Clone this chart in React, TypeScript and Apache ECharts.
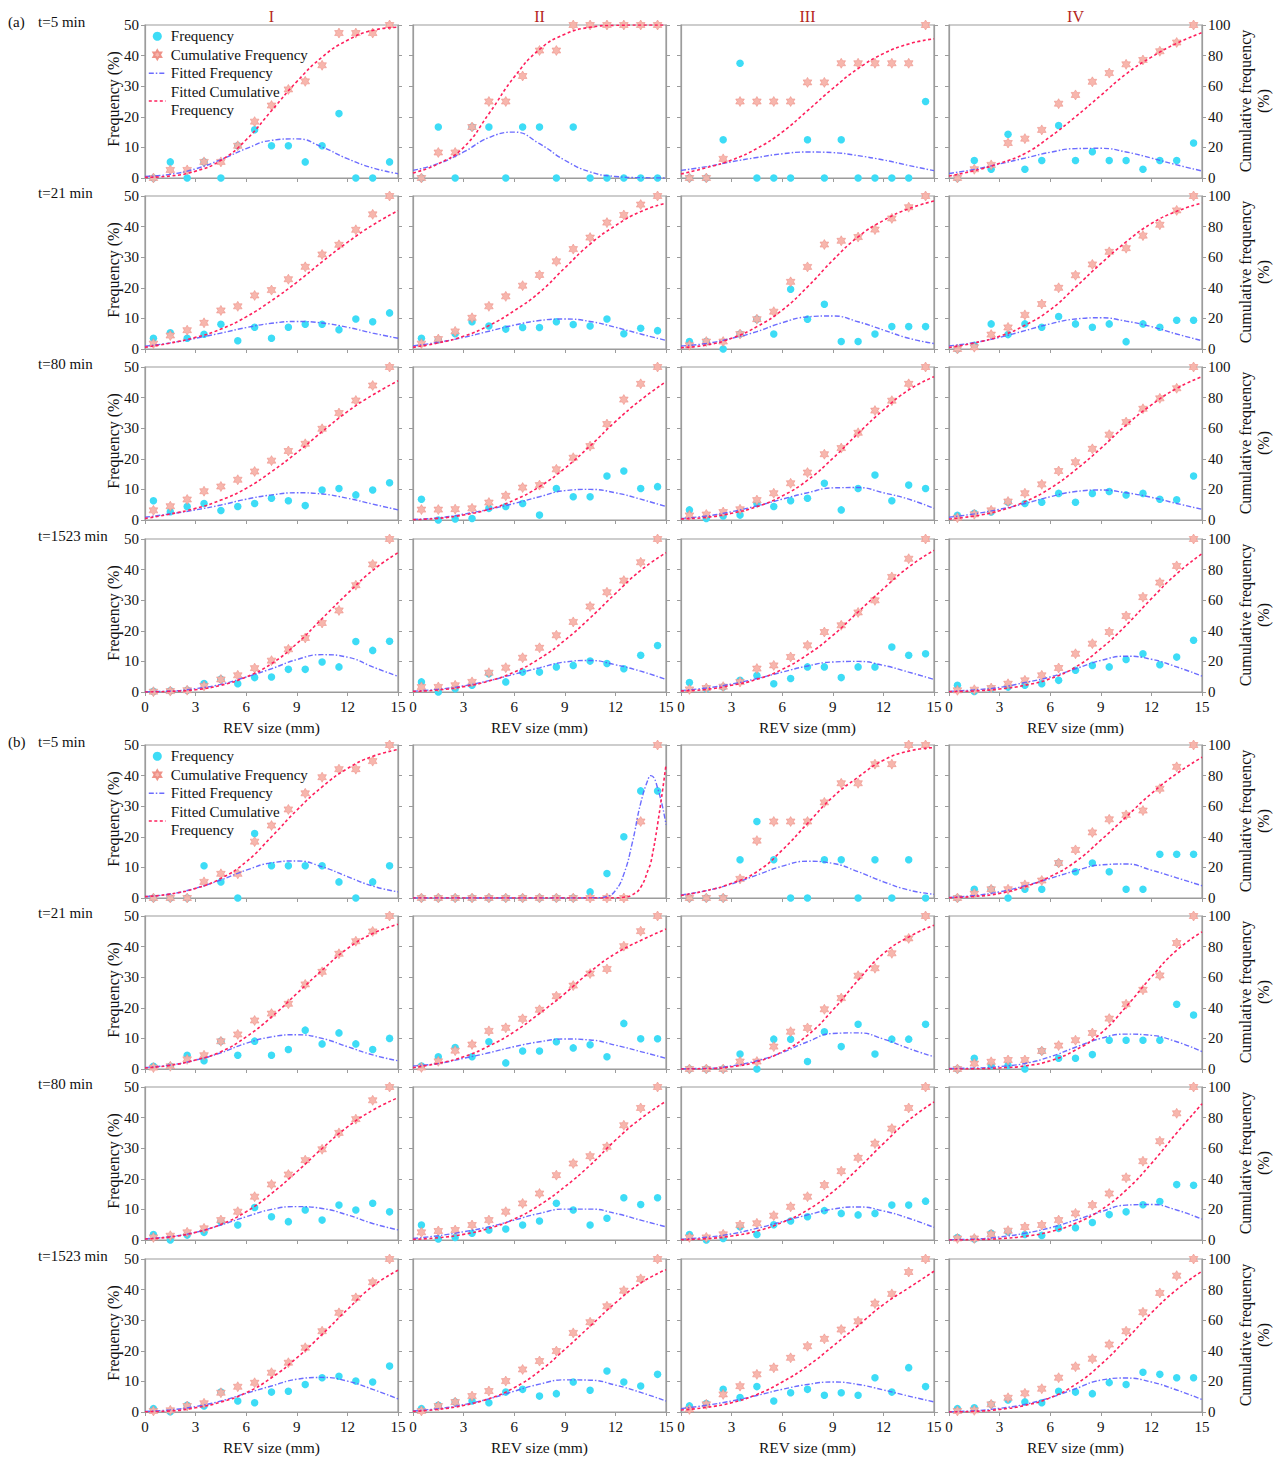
import React, { useEffect, useRef } from 'react';
import * as echarts from 'echarts';

// ---------- shared axes / labels ----------
const xMid = [0.5, 1.5, 2.5, 3.5, 4.5, 5.5, 6.5, 7.5, 8.5, 9.5, 10.5, 11.5, 12.5, 13.5, 14.5];
const fitX = [0, 1.5, 3, 4.5, 6, 7.5, 9, 10.5, 12, 13.5, 15];
const fitXNarrow = [0, 3, 6, 9, 11, 11.5, 12, 12.5, 13, 13.5, 14, 14.1, 14.5, 15];
const groupLabels = ['(a)', '(b)'];
const timeLabels = ['t=5 min', 't=21 min', 't=80 min', 't=1523 min'];
const columnLabels = ['I', 'II', 'III', 'IV'];
const seriesNames = ['Frequency', 'Cumulative Frequency', 'Fitted Frequency', 'Fitted Cumulative Frequency'];

// ---------- (a) t=5 min ----------
const freqA5 = [
  [0, 5.26, 0, 5.26, 0, 10.53, 15.79, 10.53, 10.53, 5.26, 10.53, 21.05, 0, 0, 5.26],
  [0, 16.67, 0, 16.67, 16.67, 0, 16.67, 16.67, 0, 16.67, 0, 0, 0, 0, 0],
  [0, 0, 12.5, 37.5, 0, 0, 0, 12.5, 0, 12.5, 0, 0, 0, 0, 25],
  [0, 5.71, 2.86, 14.29, 2.86, 5.71, 17.14, 5.71, 8.57, 5.71, 5.71, 2.86, 5.71, 5.71, 11.43],
];
const cumA5 = [
  [0, 5.26, 5.26, 10.53, 10.53, 21.05, 36.84, 47.37, 57.89, 63.16, 73.68, 94.74, 94.74, 94.74, 100],
  [0, 16.67, 16.67, 33.33, 50, 50, 66.67, 83.33, 83.33, 100, 100, 100, 100, 100, 100],
  [0, 0, 12.5, 50, 50, 50, 50, 62.5, 62.5, 75, 75, 75, 75, 75, 100],
  [0, 5.71, 8.57, 22.86, 25.71, 31.43, 48.57, 54.29, 62.86, 68.57, 74.29, 77.14, 82.86, 88.57, 100],
];
const fitFreqA5 = [
  [0.5, 1.2, 3, 6, 9.6, 12.3, 12.8, 10.1, 6.3, 3.3, 1.4],
  [2.5, 4.7, 8.5, 13.2, 15, 11.2, 5.8, 2, 0.5, 0.1, 0],
  [2.5, 3.7, 5.3, 6.7, 7.9, 8.5, 8.3, 7.3, 5.9, 4.1, 2.4],
  [1.5, 2.8, 4.6, 6.5, 8.4, 9.6, 9.7, 8.5, 6.5, 4.3, 2.3],
];
const fitCumA5 = [
  [0.4, 1.3, 4.5, 11.5, 25, 44, 63, 79, 90, 96.5, 98.5],
  [3.3, 9.3, 20, 42, 66, 84, 94, 98.5, 99.8, 100, 100],
  [2.6, 6.7, 11.7, 19.3, 30, 44, 58.5, 71.5, 81.3, 87.6, 91],
  [1.3, 4.8, 9.6, 16, 27, 40, 54, 68, 79, 88, 95],
];

// ---------- (a) t=21 min ----------
const freqA21 = [
  [3.5, 5.3, 3.5, 4.8, 8.1, 2.7, 7.1, 3.5, 7.1, 8.1, 8.1, 6.3, 9.8, 8.9, 11.8],
  [3.5, 3, 5, 8.9, 7.5, 6.5, 7, 7, 8.9, 8, 7.5, 9.8, 5, 6.8, 6],
  [2.44, 2.44, 0, 4.88, 9.76, 4.88, 19.51, 9.76, 14.63, 2.44, 2.44, 4.88, 7.32, 7.32, 7.32],
  [0, 1.2, 8.2, 4.7, 8.2, 7.1, 10.6, 8.2, 7.1, 8.2, 2.4, 8.2, 7.1, 9.4, 9.4],
];
const cumA21 = [
  [3.5, 8.8, 12.3, 17.1, 25.2, 27.9, 35, 38.5, 45.6, 53.7, 61.8, 68.1, 77.9, 88, 100],
  [3.5, 6.5, 11.5, 20.4, 27.9, 34.4, 41.4, 48.4, 57.3, 65.3, 72.8, 82.6, 87.6, 94.4, 100],
  [2.44, 4.88, 4.88, 9.76, 19.51, 24.39, 43.9, 53.66, 68.29, 70.73, 73.17, 78.05, 85.37, 92.68, 100],
  [0, 1.2, 9.4, 14.1, 22.3, 29.4, 40, 48.2, 55.3, 63.5, 65.9, 74.1, 81.2, 90.6, 100],
];
const fitFreqA21 = [
  [0.9, 2, 3.5, 5.2, 7, 8.4, 9, 8.5, 7.1, 5.2, 3.5],
  [1, 2.2, 3.8, 5.8, 7.8, 9.3, 9.8, 9, 7.1, 4.9, 2.8],
  [1, 1.8, 3.5, 5.7, 8.6, 10.5, 10.8, 8.9, 6.2, 3.5, 1.8],
  [1, 2.1, 3.8, 6, 8.2, 9.8, 10.2, 9.1, 7.3, 4.9, 2.7],
];
const fitCumA21 = [
  [1.1, 3.9, 7.6, 13, 21, 31.6, 43.6, 57, 69.7, 81, 90.4],
  [1.1, 4, 8.3, 15.3, 25, 37, 53, 68.6, 80.6, 89.8, 95.4],
  [0.9, 2.6, 7, 14.6, 25.4, 40.6, 58, 73.3, 84, 91.7, 96.7],
  [1, 4, 8.3, 15.5, 25.6, 40.4, 55.8, 70, 82, 90, 95.4],
];

// ---------- (a) t=80 min ----------
const freqA80 = [
  [6.3, 2.7, 4.4, 5.4, 3.1, 4.4, 5.4, 7.1, 6.3, 4.7, 9.8, 10.3, 8.2, 9.8, 12.2],
  [6.8, 0, 0.3, 0.5, 3.8, 4.4, 5.4, 1.6, 10.3, 7.6, 7.6, 14.4, 16, 10.3, 10.9],
  [3.3, 0.5, 1.3, 1.6, 5.4, 4.4, 6.3, 7.1, 12, 3.3, 10.3, 14.7, 6.3, 11.4, 10.3],
  [1.5, 2.2, 2.6, 5.8, 5.4, 5.8, 8.7, 5.8, 8.7, 9.3, 8.2, 8.7, 6.8, 6.6, 14.4],
];
const cumA80 = [
  [6.3, 9, 13.4, 18.8, 21.9, 26.3, 31.7, 38.8, 45.1, 49.8, 59.6, 69.9, 78.1, 87.9, 100],
  [6.8, 6.8, 7.1, 7.6, 11.4, 15.8, 21.2, 22.8, 33.1, 40.7, 48.3, 62.7, 78.7, 89, 100],
  [3, 3.6, 5.2, 7, 13, 17.5, 24, 31, 43, 47, 57, 71.5, 78, 89, 100],
  [1.5, 3.7, 6.3, 12.1, 17.5, 23.3, 32, 37.8, 46.5, 55.8, 64, 72.7, 79.5, 86.1, 100],
];
const fitFreqA80 = [
  [0.9, 2, 3.3, 4.9, 6.8, 8.2, 8.9, 8.5, 7.1, 5.2, 3.3],
  [0.2, 0.7, 1.9, 3.5, 5.4, 7.6, 9.6, 10, 8.9, 6.8, 4.4],
  [0.5, 1.3, 2.7, 4.6, 6.8, 8.9, 10.5, 10.6, 8.9, 6.8, 3.8],
  [0.9, 2, 3.5, 5.4, 7.6, 9.3, 9.8, 8.9, 7.4, 5.4, 3.5],
];
const fitCumA80 = [
  [1, 3.9, 7.6, 13, 20.7, 31.6, 44, 57.7, 70.8, 81.7, 91],
  [0.2, 1.1, 3.3, 7, 13, 21.8, 33.8, 48.4, 64.3, 78.4, 90.4],
  [0.7, 1.7, 4.4, 8.7, 15.7, 26, 40.3, 56.6, 71.9, 85, 93.7],
  [0.7, 2.6, 6.1, 12, 20.7, 32.7, 46.8, 62, 75.2, 86, 93.7],
];

// ---------- (a) t=1523 min ----------
const freqA1523 = [
  [0.2, 0.4, 0.6, 2.8, 4.2, 2.7, 4.7, 4.9, 7.4, 7.4, 9.8, 8.2, 16.5, 13.6, 16.6],
  [3.3, 0, 1.1, 2.2, 6, 3.3, 6.5, 6.5, 8.2, 8.7, 10.1, 9.3, 7.6, 12, 15.2],
  [3.1, 1.1, 1.6, 3.8, 5.4, 2.7, 4.4, 8.2, 8.2, 4.7, 8.2, 8.2, 14.7, 12, 12.5],
  [2.2, 0.2, 1.1, 1.6, 2.2, 2.7, 3.8, 7.1, 8.7, 8.2, 10.6, 12.5, 8.9, 11.4, 16.9],
];
const cumA1523 = [
  [0.2, 0.6, 1.2, 4, 8.2, 10.9, 15.6, 20.5, 27.9, 35.3, 45.1, 53.3, 69.8, 83.4, 100],
  [3.3, 3.3, 4.4, 6.6, 12.6, 15.9, 22.4, 28.9, 37.1, 45.8, 55.9, 65.2, 72.8, 84.8, 100],
  [1.7, 2.6, 3.5, 6.5, 15.3, 17.4, 22.9, 30.5, 39.2, 43.6, 52, 59.9, 75.2, 87.1, 100],
  [1.1, 1.5, 2.6, 5.4, 7.6, 10.9, 15.7, 25, 31.6, 39.2, 49.7, 62, 71.5, 82.4, 100],
];
const fitFreqA1523 = [
  [0.1, 0.3, 1.1, 2.5, 4.9, 7.6, 10.6, 12.2, 11.4, 8.2, 5.1],
  [0.3, 0.9, 2, 3.7, 5.8, 7.9, 9.8, 10.3, 8.9, 6.8, 4.1],
  [0.5, 1.3, 2.6, 4.4, 6.5, 8.5, 9.8, 10, 8.7, 6.5, 4.1],
  [0.2, 0.7, 1.5, 3.1, 4.9, 7.6, 10.3, 11.7, 10.7, 8.2, 5.2],
];
const fitCumA1523 = [
  [0, 0.4, 1.5, 4.4, 9.8, 18.5, 31.6, 48, 64.3, 79.5, 91],
  [0.4, 1.3, 3.5, 7.2, 13, 21.8, 33.8, 48.4, 64.3, 79.5, 91],
  [0.7, 1.7, 4.4, 8.3, 14.8, 24.4, 37, 52.3, 67.5, 81.7, 92.6],
  [0.2, 0.7, 2, 4.4, 8.7, 16.3, 28.3, 43.6, 61, 77.3, 90.4],
];

// ---------- (b) t=5 min ----------
const freqB5 = [
  [0, 0, 0, 10.53, 5.26, 0, 21.05, 10.53, 10.53, 10.53, 10.53, 5.26, 0, 5.26, 10.53],
  [0, 0, 0, 0, 0, 0, 0, 0, 0, 0, 2, 8, 20, 35, 35],
  [0, 0, 0, 12.5, 25, 12.5, 0, 0, 12.5, 12.5, 0, 12.5, 0, 12.5, 0],
  [0, 2.86, 2.86, 0, 2.86, 2.86, 11.43, 8.57, 11.43, 8.57, 2.86, 2.86, 14.29, 14.29, 14.29],
];
const cumB5 = [
  [0, 0, 0, 10.53, 15.79, 15.79, 36.84, 47.37, 57.89, 68.42, 78.95, 84.21, 84.21, 89.47, 100],
  [0, 0, 0, 0, 0, 0, 0, 0, 0, 0, 0, 0, 0, 50, 100],
  [0, 0, 0, 12.5, 37.5, 50, 50, 50, 62.5, 75, 75, 87.5, 87.5, 100, 100],
  [0, 2.86, 5.71, 5.71, 8.57, 11.43, 22.86, 31.43, 42.86, 51.43, 54.29, 57.14, 71.43, 85.71, 100],
];
const fitFreqB5 = [
  [0.5, 1.3, 3.2, 5.9, 9.1, 11.5, 12.1, 10.2, 7, 3.9, 2],
  [0, 0, 0, 0, 0.1, 0.5, 2.4, 7.8, 18, 31, 39.7, 40, 36, 24],
  [1, 2.4, 4.6, 7.5, 10.4, 12, 11.3, 8.6, 5.3, 2.6, 1.2],
  [0.2, 0.8, 2, 4, 6.4, 8.9, 10.8, 11.1, 9.1, 6.6, 4],
];
const fitCumB5 = [
  [0.9, 2.6, 6.3, 12.8, 23.7, 40, 57.4, 72.6, 84.6, 92.6, 97],
  [0, 0, 0, 0, 0, 0, 0.1, 0.5, 2, 7, 20, 23, 48, 87],
  [1.7, 4.8, 9.6, 17.2, 31.3, 48.7, 66, 79, 90, 96, 98.3],
  [0.2, 1, 3, 7.4, 14, 23.7, 37.8, 53, 68.3, 81.3, 92],
];

// ---------- (b) t=21 min ----------
const freqB21 = [
  [0.9, 0.9, 4.5, 2.7, 9.1, 4.5, 9.1, 4.5, 6.4, 12.7, 8.2, 11.8, 8.2, 6.4, 10],
  [1, 4, 7, 4, 8.9, 2, 5.9, 5.9, 8.9, 6.9, 7.9, 4, 14.9, 9.9, 9.9],
  [0, 0, 0, 4.88, 0, 9.76, 9.76, 2.44, 12.2, 7.32, 14.63, 4.88, 9.76, 9.76, 14.63],
  [0, 3.53, 1.18, 1.18, 0, 5.88, 3.53, 3.53, 4.71, 9.41, 9.41, 9.41, 9.41, 21.18, 17.65],
];
const cumB21 = [
  [0.9, 1.8, 6.3, 9, 18.1, 22.6, 31.7, 36.2, 42.6, 55.3, 63.5, 75.3, 83.5, 89.9, 100],
  [1, 5, 12, 16, 24.9, 26.9, 32.8, 38.7, 47.6, 54.5, 62.4, 65.4, 80.3, 90.1, 100],
  [0, 0, 0, 4.88, 4.88, 14.63, 24.39, 26.83, 39.02, 46.34, 60.98, 65.85, 75.61, 85.37, 100],
  [0, 3.53, 4.71, 5.88, 5.88, 11.76, 15.29, 18.82, 23.53, 32.94, 42.35, 51.76, 61.18, 82.35, 100],
];
const fitFreqB21 = [
  [0.5, 1.3, 2.9, 5.3, 8.4, 10.5, 11.2, 10, 7.3, 4.6, 2.7],
  [1, 1.8, 3.5, 5.3, 7.3, 8.9, 9.8, 9.5, 7.8, 5.7, 3.5],
  [0.1, 0.2, 1, 2.7, 5.4, 8.9, 11.6, 11.8, 9.8, 6.7, 4],
  [0.2, 0.3, 0.8, 1.8, 4, 7.1, 10, 11.4, 11, 8.9, 5.7],
];
const fitCumB21 = [
  [0.7, 2.4, 5.9, 11.3, 21, 34, 49.3, 64.6, 78.7, 88.5, 94.6],
  [0.9, 3.7, 8, 15, 24.3, 36.3, 49.3, 63.5, 75.4, 84, 91.5],
  [0, 0.2, 1.5, 4.8, 11.3, 22, 38.5, 58, 75.4, 86.3, 94],
  [0, 0.1, 0.7, 2, 5.4, 12.4, 23.3, 40.7, 60.2, 77.6, 89.6],
];

// ---------- (b) t=80 min ----------
const freqB80 = [
  [1.8, 0, 1.6, 2.5, 6, 4.9, 10.6, 7.6, 6, 9.8, 6.5, 11.4, 9.8, 12, 9.2],
  [4.9, 0.3, 0.8, 2.2, 3.3, 3.6, 4.9, 6.2, 12, 9.8, 4.9, 7.1, 13.8, 11.6, 13.8],
  [1.8, 0, 0.5, 4.3, 1.8, 5, 6.2, 7.6, 9.6, 8.7, 8.2, 8.7, 11.4, 11.4, 12.7],
  [0.8, 0.3, 2.2, 2.7, 1.8, 1.5, 3.8, 4, 5.7, 8.3, 9.2, 11.5, 12.6, 18.1, 17.9],
];
const cumB80 = [
  [1.7, 2.8, 5, 7.6, 13, 18.5, 28.3, 36.3, 42.8, 52.2, 59.3, 70, 79, 91.3, 100],
  [5, 5.9, 6.5, 9.8, 13, 18.5, 23.9, 30.4, 42.4, 50, 54.8, 60.9, 75, 86.3, 100],
  [1.7, 1.7, 3.7, 9.8, 10.9, 15.9, 21.7, 28.3, 35.9, 45, 53.7, 63, 72.8, 86.3, 100],
  [1, 1, 3.7, 6.1, 8.5, 9.8, 13, 17.4, 22.8, 30.4, 40.7, 51.5, 64.6, 82.8, 100],
];
const fitFreqB80 = [
  [0.4, 1.1, 2.5, 4.9, 7.6, 10, 10.9, 10.3, 8.2, 5.4, 3.3],
  [0.5, 1.4, 2.7, 4.3, 6.5, 8.7, 10.1, 10.1, 8.7, 6.5, 4.3],
  [0.3, 0.9, 2, 3.8, 6, 8.2, 10.1, 10.8, 9.5, 7.1, 4.1],
  [0.1, 0.3, 1, 2.2, 4, 6.5, 9.2, 11.4, 11.6, 9.8, 6.8],
];
const fitCumB80 = [
  [0.7, 2, 5, 10.2, 18.5, 30.4, 44.6, 59.8, 73.9, 84.8, 93],
  [0.4, 1.5, 3.7, 7.6, 13.7, 22.8, 34.8, 48.9, 65.2, 79.3, 90.7],
  [0.2, 0.9, 2.6, 5.9, 11.5, 19.6, 31.5, 46.7, 63, 78.3, 90.2],
  [0, 0.2, 0.9, 2.4, 5.4, 10.9, 19.6, 32.6, 50, 70, 89],
];

// ---------- (b) t=1523 min ----------
const freqB1523 = [
  [1.1, 0.1, 2.2, 2, 6.5, 3.6, 3, 6.5, 6.8, 9, 11.2, 11.7, 10.1, 9.8, 15],
  [1.1, 2.2, 3.3, 3.6, 3, 6.5, 7.4, 5.2, 6, 9.8, 7.1, 13.4, 9.8, 8.5, 12.3],
  [2, 2.8, 7.4, 4.7, 8.3, 3.6, 6.3, 7.4, 5.5, 6.3, 5.5, 11.2, 6.5, 14.5, 8.3],
  [1.1, 1.4, 2.5, 3.9, 3.3, 3, 6.8, 6.5, 6, 9.6, 9, 13, 12.3, 11.2, 11.2],
];
const cumB1523 = [
  [0.7, 1.1, 3.9, 5.7, 12.6, 16.5, 19.1, 25.7, 32.2, 42, 52.8, 64.8, 74.6, 84.8, 100],
  [0.7, 3.9, 6.5, 10.4, 13.7, 20.2, 27.8, 33.3, 39.8, 51.7, 58.7, 69.1, 79.3, 87, 100],
  [1.7, 5, 11.5, 16.9, 24.6, 28.9, 35.4, 43, 47.8, 53.9, 59.3, 70.9, 77.2, 91.5, 100],
  [0.7, 1.1, 5, 9.3, 12.2, 15.2, 22.4, 29.6, 34.8, 44.1, 52.8, 65.2, 77.8, 89.1, 100],
];
const fitFreqB1523 = [
  [0.2, 0.7, 1.8, 3.6, 6.1, 8.5, 10.7, 11.3, 10.1, 7.4, 4.3],
  [0.4, 1.1, 2.4, 4.3, 6.8, 9.1, 10.5, 10.4, 8.8, 6.4, 3.6],
  [1.1, 2.2, 3.6, 5.4, 7.4, 9, 9.8, 9, 7.2, 5.2, 3.3],
  [0.1, 0.4, 1.2, 2.5, 4.7, 7.6, 10.4, 11.1, 9.8, 7.2, 4.1],
];
const fitCumB1523 = [
  [0.2, 0.7, 2.8, 6.5, 12.6, 22.4, 35.4, 50.7, 67, 82.2, 92.6],
  [0.4, 1.7, 4.3, 8.7, 15.9, 26.7, 40.9, 56.1, 71.3, 84.3, 93],
  [1.3, 3, 6.1, 11.5, 19.6, 30, 43, 56.5, 70.2, 81.1, 92],
  [0, 0.4, 1.7, 4.3, 9.3, 18, 31, 47.4, 64.8, 80, 92],
];

const rows = [
  { freq: freqA5, cum: cumA5, fitF: fitFreqA5, fitC: fitCumA5 },
  { freq: freqA21, cum: cumA21, fitF: fitFreqA21, fitC: fitCumA21 },
  { freq: freqA80, cum: cumA80, fitF: fitFreqA80, fitC: fitCumA80 },
  { freq: freqA1523, cum: cumA1523, fitF: fitFreqA1523, fitC: fitCumA1523 },
  { freq: freqB5, cum: cumB5, fitF: fitFreqB5, fitC: fitCumB5 },
  { freq: freqB21, cum: cumB21, fitF: fitFreqB21, fitC: fitCumB21 },
  { freq: freqB80, cum: cumB80, fitF: fitFreqB80, fitC: fitCumB80 },
  { freq: freqB1523, cum: cumB1523, fitF: fitFreqB1523, fitC: fitCumB1523 },
];

// ---------- layout & style ----------
const FONT = "'Liberation Serif', 'Times New Roman', serif";
const colLeft = [145, 413, 681, 949];
const rowTop = [25, 196, 367, 539, 745, 916, 1087, 1259];
const PW = 253;
const PH = 153;
const AXIS_GREY = '#9c9c9c';
const CYAN = '#3ddcf6';
const PINK = '#f7b2a9';
const PINK_EDGE = '#ee8e84';
const BLUE = '#5c5cff';
const RED = '#ff1f5c';
const BLUE_DASH = [5, 2, 1.5, 2];
const RED_DASH = [3, 2.5];

function hexagram(): string {
  const pts: string[] = [];
  for (let i = 0; i < 12; i++) {
    const a = -Math.PI / 2 + (i * Math.PI) / 6;
    const rr = i % 2 === 0 ? 10 : 5.77;
    pts.push(`${(10 + rr * Math.cos(a)).toFixed(2)} ${(10 + rr * Math.sin(a)).toFixed(2)}`);
  }
  return 'path://M' + pts.join(' L') + ' Z';
}
const STAR = hexagram();

function buildOption() {
  const grid: any[] = [];
  const xAxis: any[] = [];
  const yAxis: any[] = [];
  const series: any[] = [];
  const graphic: any[] = [];

  for (let r = 0; r < 8; r++) {
    const d = rows[r];
    for (let c = 0; c < 4; c++) {
      const p = r * 4 + c;
      const fx = r === 4 && c === 1 ? fitXNarrow : fitX;
      grid.push({
        left: colLeft[c], top: rowTop[r], width: PW, height: PH,
        show: true, borderColor: AXIS_GREY, borderWidth: 1.2, backgroundColor: 'transparent',
      });
      xAxis.push({
        type: 'value', gridIndex: p, min: 0, max: 15, interval: 3,
        axisLine: { show: true, onZero: false, lineStyle: { color: AXIS_GREY, width: 1.2 } },
        axisTick: { show: true, inside: false, length: 4, lineStyle: { color: AXIS_GREY } },
        axisLabel: { show: r % 4 === 3, fontFamily: FONT, fontSize: 15, color: '#111', margin: 7 },
        splitLine: { show: false },
      });
      yAxis.push({
        type: 'value', gridIndex: p, position: 'left', min: 0, max: 50, interval: 10,
        axisLine: { show: true, onZero: false, lineStyle: { color: AXIS_GREY, width: 1.2 } },
        axisTick: { show: true, inside: false, length: 4, lineStyle: { color: AXIS_GREY } },
        axisLabel: { show: c === 0, fontFamily: FONT, fontSize: 15, color: '#111', margin: 6 },
        splitLine: { show: false },
      });
      yAxis.push({
        type: 'value', gridIndex: p, position: 'right', min: 0, max: 100, interval: 20,
        axisLine: { show: true, onZero: false, lineStyle: { color: AXIS_GREY, width: 1.2 } },
        axisTick: { show: true, inside: false, length: 4, lineStyle: { color: AXIS_GREY } },
        axisLabel: { show: c === 3, fontFamily: FONT, fontSize: 15, color: '#111', margin: 6 },
        splitLine: { show: false },
      });
      series.push({
        name: seriesNames[0], type: 'scatter', xAxisIndex: p, yAxisIndex: 2 * p,
        symbol: 'circle', symbolSize: 7.5,
        itemStyle: { color: CYAN, opacity: 1 },
        data: xMid.map((x, i) => [x, d.freq[c][i]]),
        z: 2,
      });
      series.push({
        name: seriesNames[1], type: 'scatter', xAxisIndex: p, yAxisIndex: 2 * p + 1,
        symbol: STAR, symbolSize: 10, symbolKeepAspect: true,
        itemStyle: { color: PINK, borderColor: PINK_EDGE, borderWidth: 0.6, opacity: 0.95 },
        data: xMid.map((x, i) => [x, d.cum[c][i]]),
        z: 3,
      });
      series.push({
        name: seriesNames[2], type: 'line', xAxisIndex: p, yAxisIndex: 2 * p,
        smooth: true, symbol: 'none', showSymbol: false,
        lineStyle: { color: BLUE, width: 1.4, type: BLUE_DASH, opacity: 0.9 },
        itemStyle: { color: BLUE },
        data: fx.map((x, i) => [x, d.fitF[c][i]]),
        z: 4,
      });
      series.push({
        name: seriesNames[3], type: 'line', xAxisIndex: p, yAxisIndex: 2 * p + 1,
        smooth: true, symbol: 'none', showSymbol: false,
        lineStyle: { color: RED, width: 1.6, type: RED_DASH },
        itemStyle: { color: RED },
        data: fx.map((x, i) => [x, d.fitC[c][i]]),
        z: 5,
      });
    }

    // row labels
    if (r % 4 === 0) {
      graphic.push({
        type: 'text', x: 8, y: rowTop[r] - 3,
        style: { text: groupLabels[r / 4], font: `15px ${FONT}`, fill: '#111', textAlign: 'left', align: 'left', textVerticalAlign: 'middle', verticalAlign: 'middle' },
      });
    }
    graphic.push({
      type: 'text', x: 38, y: rowTop[r] - 3,
      style: { text: timeLabels[r % 4], font: `15px ${FONT}`, fill: '#111', textAlign: 'left', align: 'left', textVerticalAlign: 'middle', verticalAlign: 'middle' },
    });
    // left axis name
    graphic.push({
      type: 'text', x: 113, y: rowTop[r] + 74, rotation: Math.PI / 2,
      style: { text: 'Frequency (%)', font: `16px ${FONT}`, fill: '#111', textAlign: 'center', align: 'center', textVerticalAlign: 'middle', verticalAlign: 'middle' },
    });
    // right axis name
    graphic.push({
      type: 'text', x: 1254, y: rowTop[r] + 76, rotation: Math.PI / 2,
      style: { text: 'Cumulative frequency\n(%)', font: `16px ${FONT}`, lineHeight: 18, fill: '#111', textAlign: 'center', align: 'center', textVerticalAlign: 'middle', verticalAlign: 'middle' },
    });
    // x axis names
    if (r % 4 === 3) {
      for (let c = 0; c < 4; c++) {
        graphic.push({
          type: 'text', x: colLeft[c] + PW / 2, y: rowTop[r] + PH + 35,
          style: { text: 'REV size (mm)', font: `15.5px ${FONT}`, fill: '#111', textAlign: 'center', align: 'center', textVerticalAlign: 'middle', verticalAlign: 'middle' },
        });
      }
    }
  }
  // column headers
  for (let c = 0; c < 4; c++) {
    graphic.push({
      type: 'text', x: colLeft[c] + PW / 2, y: 16,
      style: { text: columnLabels[c], font: `16px ${FONT}`, fill: '#b5261c', textAlign: 'center', align: 'center', textVerticalAlign: 'middle', verticalAlign: 'middle' },
    });
  }

  const legendData = [
    { name: seriesNames[0] },
    { name: seriesNames[1] },
    { name: seriesNames[2], itemStyle: { opacity: 0 }, lineStyle: { color: BLUE, width: 1.4, type: BLUE_DASH } },
    { name: seriesNames[3], itemStyle: { opacity: 0 }, lineStyle: { color: RED, width: 1.6, type: RED_DASH } },
  ];
  const legendBase = {
    orient: 'vertical', left: 143, itemWidth: 17, itemHeight: 9, itemGap: 0,
    selectedMode: false,
    data: legendData,
    textStyle: { fontFamily: FONT, fontSize: 15, lineHeight: 18.5, color: '#111' },
    formatter: (name: string) => (name === 'Fitted Cumulative Frequency' ? 'Fitted Cumulative\nFrequency' : name),
  };

  return {
    backgroundColor: '#ffffff',
    animation: false,
    grid, xAxis, yAxis, series, graphic,
    legend: [
      { ...legendBase, top: 22 },
      { ...legendBase, top: 742 },
    ],
  };
}

export default function App() {
  const ref = useRef<HTMLDivElement>(null);
  useEffect(() => {
    if (!ref.current) return;
    const chart = echarts.init(ref.current, null, { renderer: 'svg' });
    chart.setOption(buildOption() as any);
    return () => chart.dispose();
  }, []);
  return (
    <div
      ref={ref}
      style={{ position: 'absolute', left: 0, top: 0, width: 1279, height: 1457, background: '#fff' }}
    />
  );
}
